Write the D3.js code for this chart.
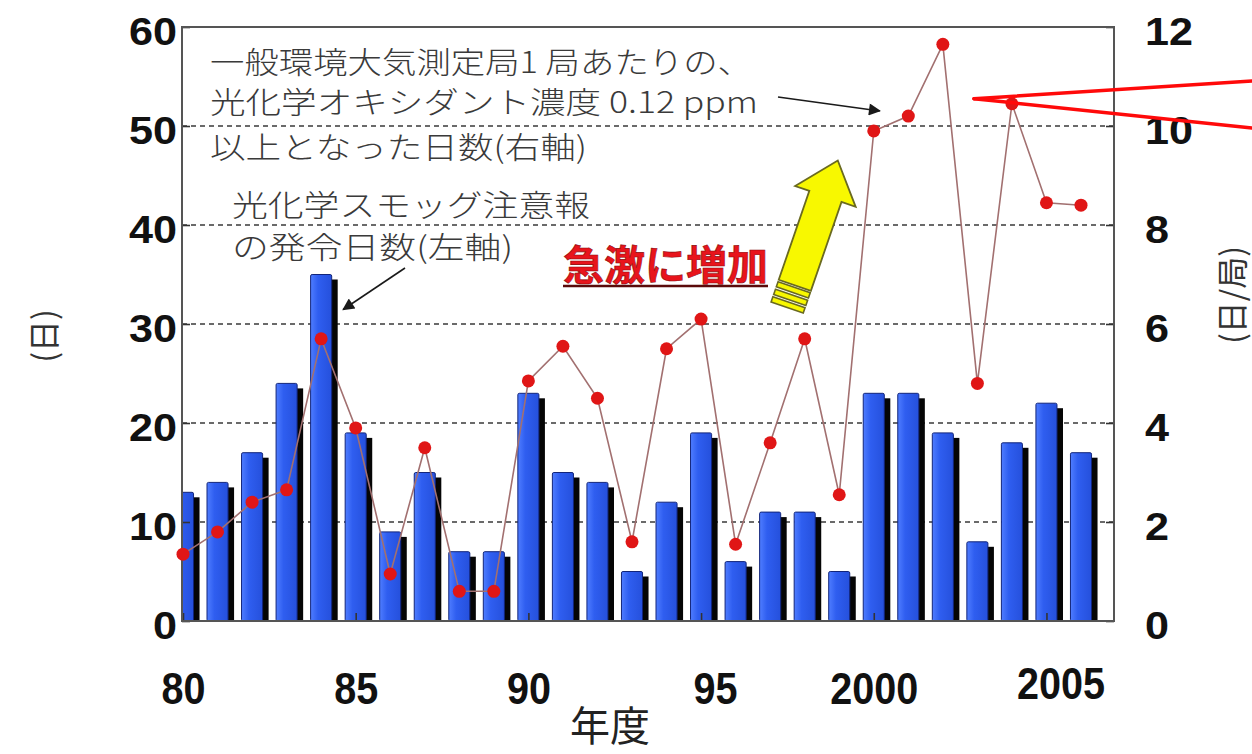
<!DOCTYPE html>
<html>
<head>
<meta charset="utf-8">
<script src="https://cdn.jsdelivr.net/npm/d3@7"></script>
<style>
  html, body { margin: 0; padding: 0; background: #fff; }
  svg { display: block; }
</style>
</head>
<body>
<svg id="chart" width="1252" height="754"></svg>
<script>
// Fiscal years on the horizontal axis
const years = [1980, 1981, 1982, 1983, 1984, 1985, 1986, 1987, 1988, 1989,
               1990, 1991, 1992, 1993, 1994, 1995, 1996, 1997, 1998, 1999,
               2000, 2001, 2002, 2003, 2004, 2005, 2006];

// Days with a photochemical smog warning issued (left axis, bars)
const alertDays = [13, 14, 17, 24, 35, 19, 9, 15, 7, 7,
                   23, 15, 14, 5, 12, 19, 6, 11, 11, 5,
                   23, 23, 19, 8, 18, 22, 17];

// Days per station with oxidant >= 0.12 ppm (right axis, line)
const oxidantDays = [1.35, 1.8, 2.4, 2.65, 5.7, 3.9, 0.95, 3.5, 0.6, 0.6,
                     4.85, 5.55, 4.5, 1.6, 5.5, 6.1, 1.55, 3.6, 5.7, 2.55,
                     9.9, 10.2, 11.65, 4.8, 10.45, 8.45, 8.4];

const leftTicks = [0, 10, 20, 30, 40, 50, 60];
const rightTicks = [0, 2, 4, 6, 8, 10, 12];
const xTickYears = [1980, 1985, 1990, 1995, 2000, 2005];
const xTickLabels = ["80", "85", "90", "95", "2000", "2005"];

const noteLines = [
  "一般環境大気測定局1 局あたりの、",
  "光化学オキシダント濃度 0.12 ppm",
  "以上となった日数(右軸)"
];
const barNoteLines = ["光化学スモッグ注意報", "の発令日数(左軸)"];

const svg = d3.select("#chart");

const plot = { left: 182, top: 27, right: 1114, bottom: 621 };

const x = d3.scaleLinear().domain([1980, 2006]).range([183, 1081]);
const yL = d3.scaleLinear().domain([0, 60]).range([plot.bottom, plot.top]);
const yR = d3.scaleLinear().domain([0, 12]).range([plot.bottom, plot.top]);

const step = x(1981) - x(1980);
const barW = step * 0.61;

const defs = svg.append("defs");
defs.append("clipPath").attr("id", "plotClip")
  .append("rect")
  .attr("x", plot.left).attr("y", plot.top)
  .attr("width", plot.right - plot.left).attr("height", plot.bottom - plot.top);

const grad = defs.append("linearGradient").attr("id", "barFill")
  .attr("x1", "0").attr("x2", "1").attr("y1", "0").attr("y2", "0");
grad.append("stop").attr("offset", "0%").attr("stop-color", "#4f7dff");
grad.append("stop").attr("offset", "35%").attr("stop-color", "#2f5ef0");
grad.append("stop").attr("offset", "100%").attr("stop-color", "#2550dc");

defs.append("marker").attr("id", "arrowHead")
  .attr("viewBox", "0 0 10 10").attr("refX", 9).attr("refY", 5)
  .attr("markerUnits", "userSpaceOnUse")
  .attr("orient", "auto")
  .attr("markerWidth", 15).attr("markerHeight", 12)
  .append("path").attr("d", "M0,0 L10,5 L0,10 Z").attr("fill", "#1a1a1a");

// Dashed horizontal grid
svg.append("g")
  .selectAll("line")
  .data(leftTicks.filter(d => d > 0 && d < 60))
  .join("line")
  .attr("x1", plot.left).attr("x2", plot.right)
  .attr("y1", d => yL(d)).attr("y2", d => yL(d))
  .attr("stroke", "#3a3a3a")
  .attr("stroke-width", 1.6)
  .attr("stroke-dasharray", "5,4");

// Bars with a dark drop shadow on the right
const bars = svg.append("g").attr("clip-path", "url(#plotClip)");
bars.selectAll("rect.shadow")
  .data(years)
  .join("rect")
  .attr("class", "shadow")
  .attr("x", d => x(d) - barW / 2 + 6)
  .attr("y", (d, i) => yL(alertDays[i]) + 5)
  .attr("width", barW)
  .attr("height", (d, i) => plot.bottom - yL(alertDays[i]) - 5)
  .attr("fill", "#050505");
bars.selectAll("rect.bar")
  .data(years)
  .join("rect")
  .attr("class", "bar")
  .attr("x", d => x(d) - barW / 2)
  .attr("y", (d, i) => yL(alertDays[i]))
  .attr("width", barW)
  .attr("height", (d, i) => plot.bottom - yL(alertDays[i]))
  .attr("rx", 1.5)
  .attr("fill", "url(#barFill)")
  .attr("stroke", "#12257a")
  .attr("stroke-width", 1);

// Axes
const tickFont = "'Liberation Sans', Arial, sans-serif";

const leftAxis = svg.append("g")
  .attr("transform", `translate(${plot.left},0)`)
  .call(d3.axisLeft(yL).tickValues(leftTicks).tickSizeInner(-8).tickSizeOuter(0).tickPadding(5));
const rightAxis = svg.append("g")
  .attr("transform", `translate(${plot.right},0)`)
  .call(d3.axisRight(yR).tickValues(rightTicks).tickSizeInner(-8).tickSizeOuter(0).tickPadding(31));
const bottomAxis = svg.append("g")
  .attr("transform", `translate(0,${plot.bottom})`)
  .call(d3.axisBottom(x).tickValues(xTickYears)
    .tickFormat((d, i) => xTickLabels[i])
    .tickSizeInner(-8).tickSizeOuter(0).tickPadding(51));

[leftAxis, rightAxis, bottomAxis].forEach(g => {
  g.select(".domain").remove();
  g.selectAll(".tick line").attr("stroke", "#333").attr("stroke-width", 1.6);
});

[leftAxis, rightAxis].forEach(g => {
  g.selectAll(".tick text")
    .attr("fill", "#111")
    .attr("font-family", tickFont)
    .attr("font-weight", "bold")
    .attr("font-size", 38)
    .attr("dy", "0.47em")
    .attr("lengthAdjust", "spacingAndGlyphs")
    .attr("textLength", function () { return this.textContent.length * 24; });
});

bottomAxis.selectAll(".tick text")
  .attr("fill", "#111")
  .attr("font-family", tickFont)
  .attr("font-weight", "bold")
  .attr("font-size", 45)
  .attr("lengthAdjust", "spacingAndGlyphs")
  .attr("textLength", function () { return this.textContent.length * 22; })
  .attr("dx", d => (d === 1995 || d === 2005) ? 14 : 0)
  .attr("dy", d => d === 2005 ? "0.6em" : "0.71em");

// Plot frame
svg.append("rect")
  .attr("x", plot.left).attr("y", plot.top)
  .attr("width", plot.right - plot.left).attr("height", plot.bottom - plot.top)
  .attr("fill", "none")
  .attr("stroke", "#555")
  .attr("stroke-width", 2);

// Oxidant line and markers
const line = d3.line()
  .x((d, i) => x(years[i]))
  .y(d => yR(d));
svg.append("path")
  .datum(oxidantDays)
  .attr("d", line)
  .attr("fill", "none")
  .attr("stroke", "#a27070")
  .attr("stroke-width", 1.6);
svg.append("g")
  .selectAll("circle")
  .data(oxidantDays)
  .join("circle")
  .attr("cx", (d, i) => x(years[i]))
  .attr("cy", d => yR(d))
  .attr("r", 6.5)
  .attr("fill", "#e01616");

// Axis titles
const jpFont = "'Noto Sans CJK JP', 'Noto Sans CJK SC', sans-serif";
svg.append("text")
  .attr("transform", "translate(42,336) rotate(-90)")
  .attr("text-anchor", "middle")
  .attr("dominant-baseline", "central")
  .attr("font-family", jpFont).attr("font-size", 32).attr("fill", "#333")
  .text("(日)");
svg.append("text")
  .attr("transform", "translate(1230,295) rotate(-90)")
  .attr("text-anchor", "middle")
  .attr("dominant-baseline", "central")
  .attr("font-family", jpFont).attr("font-size", 32).attr("fill", "#333")
  .text("(日/局)");
svg.append("text")
  .attr("x", 610).attr("y", 741)
  .attr("text-anchor", "middle")
  .attr("font-family", jpFont).attr("font-size", 41).attr("fill", "#222")
  .attr("lengthAdjust", "spacingAndGlyphs").attr("textLength", 80)
  .text("年度");

// Series notes
const noteFont = { family: jpFont, size: 30, fill: "#3a3a3a" };
const noteLayout = [
  { x: 210, y: 73, w: 542 },
  { x: 210, y: 113, w: 548 },
  { x: 210, y: 158, w: 377 }
];
svg.append("g").selectAll("text")
  .data(noteLines)
  .join("text")
  .attr("x", (d, i) => noteLayout[i].x)
  .attr("y", (d, i) => noteLayout[i].y)
  .attr("font-family", noteFont.family).attr("font-size", noteFont.size)
  .attr("font-weight", 300).attr("fill", noteFont.fill)
  .attr("lengthAdjust", "spacingAndGlyphs")
  .attr("textLength", (d, i) => noteLayout[i].w)
  .text(d => d);

const barNoteLayout = [
  { x: 232, y: 216, w: 358 },
  { x: 232, y: 258, w: 281 }
];
svg.append("g").selectAll("text")
  .data(barNoteLines)
  .join("text")
  .attr("x", (d, i) => barNoteLayout[i].x)
  .attr("y", (d, i) => barNoteLayout[i].y)
  .attr("font-family", noteFont.family).attr("font-size", noteFont.size)
  .attr("font-weight", 300).attr("fill", noteFont.fill)
  .attr("lengthAdjust", "spacingAndGlyphs")
  .attr("textLength", (d, i) => barNoteLayout[i].w)
  .text(d => d);

// Pointer from the line note to the 2000 marker
const i2000 = years.indexOf(2000);
svg.append("line")
  .attr("x1", 778).attr("y1", 97)
  .attr("x2", x(2000) + 6).attr("y2", yR(oxidantDays[i2000]) - 20)
  .attr("stroke", "#1a1a1a").attr("stroke-width", 1.6)
  .attr("marker-end", "url(#arrowHead)");

// Pointer from the bar note to the 1984 bar
const i1984 = years.indexOf(1984);
svg.append("line")
  .attr("x1", 405).attr("y1", 268)
  .attr("x2", x(1984) + 22).attr("y2", yL(alertDays[i1984]) + 35)
  .attr("stroke", "#1a1a1a").attr("stroke-width", 1.6)
  .attr("marker-end", "url(#arrowHead)");

// Emphasis label
svg.append("text")
  .attr("x", 563).attr("y", 280)
  .attr("font-family", jpFont).attr("font-size", 41).attr("font-weight", "bold")
  .attr("fill", "#e8141c").attr("stroke", "#8a0a0a").attr("stroke-width", 0.6)
  .attr("lengthAdjust", "spacingAndGlyphs").attr("textLength", 205)
  .text("急激に増加");
svg.append("line")
  .attr("x1", 563).attr("x2", 768).attr("y1", 286).attr("y2", 286)
  .attr("stroke", "#5a0a0a").attr("stroke-width", 2.5);

// Yellow block arrow pointing up to the recent years
const bigArrow = svg.append("g")
  .attr("transform", "translate(787,308) rotate(19)");
bigArrow.append("path")
  .attr("d", "M-17,-24 L-17,-118 L-32,-118 L0,-156 L32,-118 L17,-118 L17,-24 Z")
  .attr("fill", "#f8f800")
  .attr("stroke", "#6a6a20")
  .attr("stroke-width", 1.8)
  .attr("stroke-linejoin", "miter");
bigArrow.selectAll("rect")
  .data([-22, -14, -6])
  .join("rect")
  .attr("x", -17).attr("width", 34)
  .attr("y", d => d).attr("height", 5.5)
  .attr("fill", "#f8f800")
  .attr("stroke", "#6a6a20")
  .attr("stroke-width", 1.6);

// Red callout lines leaving the chart to the right
const i2004 = years.indexOf(2004);
const calloutTip = [x(2004) - 38, yR(oxidantDays[i2004]) - 5];
svg.append("g").selectAll("line")
  .data([[1252, 81], [1252, 128]])
  .join("line")
  .attr("x1", calloutTip[0]).attr("y1", calloutTip[1])
  .attr("x2", d => d[0]).attr("y2", d => d[1])
  .attr("stroke", "#ff0a0a")
  .attr("stroke-width", 3.5)
  .attr("stroke-linecap", "round");
</script>
</body>
</html>
